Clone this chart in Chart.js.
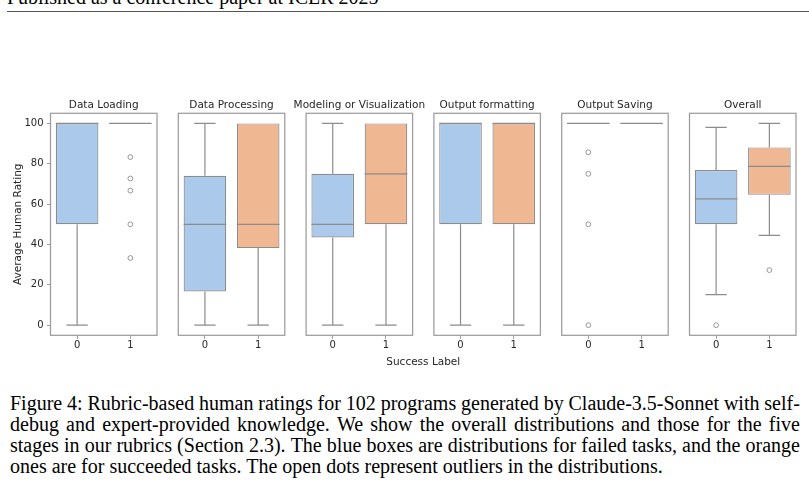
<!DOCTYPE html>
<html><head><meta charset="utf-8">
<script src="https://cdn.jsdelivr.net/npm/chart.js@4.4.1/dist/chart.umd.min.js"></script>
<style>
html,body{margin:0;padding:0;background:#fff;width:809px;height:486px;overflow:hidden;position:relative}
#hdr{position:absolute;left:7px;top:-13.4px;font:20px/21.3px "Liberation Serif",serif;color:#000;white-space:nowrap}
#rule{position:absolute;left:7px;top:11px;width:802px;height:1px;background:#555}
#wrap{position:absolute;left:0;top:90px;width:809px;height:285px}
#cap{position:absolute;left:10px;top:392.6px;width:790px;font:20px/21.3px "Liberation Serif",serif;color:#000}
#cap .ln{display:flex;justify-content:space-between;white-space:nowrap;height:21.3px}
#cap .last{display:block;white-space:nowrap;height:21.3px}
</style></head>
<body>
<div id="hdr">Published as a conference paper at ICLR 2025</div>
<div id="rule"></div>
<div id="wrap"><canvas id="c"></canvas></div>
<div id="cap">
<div class="ln">Figure 4: Rubric-based human ratings for 102 programs generated by Claude-3.5-Sonnet with self-</div>
<div class="ln">debug and expert-provided knowledge. We show the overall distributions and those for the five</div>
<div class="ln">stages in our rubrics (Section 2.3). The blue boxes are distributions for failed tasks, and the orange</div>
<div class="last">ones are for succeeded tasks. The open dots represent outliers in the distributions.</div>
</div>
<script>
// ---------- data ----------
const categories = ['Data Loading','Data Processing','Modeling or Visualization','Output formatting','Output Saving','Overall'];
const successLabels = ['0','1'];
const yTicks = [0,20,40,60,80,100];
const axisTitleX = 'Success Label';
const axisTitleY = 'Average Human Rating';
// Success label 0 (failed tasks)
const failQ1      = [50, 16.7, 43.5, 50, 100, 50];
const failMedian  = [100, 50, 50, 100, 100, 62.6];
const failQ3      = [100, 74, 75, 100, 100, 76.9];
const failLow     = [0, 0, 0, 0, 100, 15.2];
const failHigh    = [100, 100, 100, 100, 100, 98];
const failOutliers = [[], [], [], [], [85.7, 75, 50, 0], [0]];
// Success label 1 (succeeded tasks)
const succQ1      = [100, 38.2, 50, 50, 100, 64.6];
const succMedian  = [100, 50, 75, 100, 100, 78.7];
const succQ3      = [100, 100, 100, 100, 100, 88.1];
const succLow     = [100, 0, 0, 0, 100, 44.5];
const succHigh    = [100, 100, 100, 100, 100, 100];
const succOutliers = [[83.3, 72.7, 66.7, 50, 33.3], [], [], [], [], [27.3]];

// ---------- layout / style ----------
const PANEL_STEP = 2.4, BOX_W = 0.8, CAP_W = 0.4;
const BLUE = '#abc9ea', ORANGE = '#efb792', LINE = '#8c8c8c', FRAME = '#9c9c9c', TEXT = '#262626';
const FONT = '"DejaVu Sans", sans-serif';
const xPos = (i, j) => i * PANEL_STEP + j;

// caption justification
document.querySelectorAll('#cap .ln').forEach(d => {
  const words = d.textContent.trim().split(/\s+/);
  d.innerHTML = words.map(w => '<span>' + w + '</span>').join('');
});

const boxData = (q1, q3, j) => categories.map((c, i) => ({x: xPos(i, j), y: [q1[i], q3[i]]}));
const outData = (outs, j) => outs.flatMap((arr, i) => arr.map(v => ({x: xPos(i, j), y: v})));

const stats = [
  {j: 0, q1: failQ1, med: failMedian, q3: failQ3, lo: failLow, hi: failHigh},
  {j: 1, q1: succQ1, med: succMedian, q3: succQ3, lo: succLow, hi: succHigh}
];

const boxPlugin = {
  id: 'boxExtras',
  beforeDatasetsDraw(chart) {
    const {ctx, scales: {x, y}} = chart;
    ctx.save();
    ctx.strokeStyle = LINE; ctx.lineWidth = 1.2;
    stats.forEach(s => categories.forEach((c, i) => {
      const cx = x.getPixelForValue(xPos(i, s.j));
      const hw = x.getPixelForValue(xPos(i, s.j) + CAP_W / 2) - cx;
      ctx.beginPath();
      if (s.hi[i] > s.q3[i]) {
        ctx.moveTo(cx, y.getPixelForValue(s.q3[i])); ctx.lineTo(cx, y.getPixelForValue(s.hi[i]));
        ctx.moveTo(cx - hw, y.getPixelForValue(s.hi[i])); ctx.lineTo(cx + hw, y.getPixelForValue(s.hi[i]));
      }
      if (s.lo[i] < s.q1[i]) {
        ctx.moveTo(cx, y.getPixelForValue(s.q1[i])); ctx.lineTo(cx, y.getPixelForValue(s.lo[i]));
        ctx.moveTo(cx - hw, y.getPixelForValue(s.lo[i])); ctx.lineTo(cx + hw, y.getPixelForValue(s.lo[i]));
      }
      ctx.stroke();
    }));
    ctx.restore();
  },
  afterDatasetsDraw(chart) {
    const {ctx, scales: {x, y}, chartArea} = chart;
    ctx.save();
    ctx.strokeStyle = LINE; ctx.lineWidth = 1.2;
    stats.forEach(s => categories.forEach((c, i) => {
      const x0 = x.getPixelForValue(xPos(i, s.j) - BOX_W / 2);
      const x1 = x.getPixelForValue(xPos(i, s.j) + BOX_W / 2);
      const py = y.getPixelForValue(s.med[i]);
      ctx.beginPath(); ctx.moveTo(x0, py); ctx.lineTo(x1, py); ctx.stroke();
    }));
    // panel frames
    ctx.strokeStyle = FRAME; ctx.lineWidth = 1.25;
    categories.forEach((c, i) => {
      const l = x.getPixelForValue(xPos(i, 0) - 0.5);
      const r = x.getPixelForValue(xPos(i, 1) + 0.5);
      ctx.strokeRect(l, chartArea.top, r - l, chartArea.bottom - chartArea.top);
    });
    // panel titles
    ctx.fillStyle = TEXT; ctx.font = '10.5px ' + FONT;
    ctx.textAlign = 'center'; ctx.textBaseline = 'alphabetic';
    categories.forEach((c, i) => {
      const cx = (x.getPixelForValue(xPos(i, 0)) + x.getPixelForValue(xPos(i, 1))) / 2;
      ctx.fillText(c, cx, chartArea.top - 5);
    });
    ctx.restore();
  }
};

const xTickValues = categories.flatMap((c, i) => successLabels.map((l, j) => xPos(i, j)));

new Chart(document.getElementById('c'), {
  type: 'bar',
  data: {
    datasets: [
      {label: '0', data: boxData(failQ1, failQ3, 0), backgroundColor: BLUE, borderColor: LINE, borderWidth: 1.2,
       borderSkipped: false, grouped: false, barPercentage: BOX_W, categoryPercentage: 1},
      {label: '1', data: boxData(succQ1, succQ3, 1), backgroundColor: ORANGE, borderColor: LINE, borderWidth: 1.2,
       borderSkipped: false, grouped: false, barPercentage: BOX_W, categoryPercentage: 1},
      {type: 'scatter', label: 'out0', data: outData(failOutliers, 0), pointRadius: 2.4, pointBorderWidth: 0.9,
       borderColor: LINE, backgroundColor: 'rgba(255,255,255,0)', pointBackgroundColor: 'rgba(255,255,255,0)', pointBorderColor: LINE},
      {type: 'scatter', label: 'out1', data: outData(succOutliers, 1), pointRadius: 2.4, pointBorderWidth: 0.9,
       borderColor: LINE, backgroundColor: 'rgba(255,255,255,0)', pointBackgroundColor: 'rgba(255,255,255,0)', pointBorderColor: LINE}
    ]
  },
  options: {
    responsive: true, maintainAspectRatio: false, animation: false,
    layout: {padding: {left: 0, right: 13, top: 23.3, bottom: 4}},
    plugins: {legend: {display: false}, tooltip: {enabled: false}, title: {display: false}},
    scales: {
      x: {
        type: 'linear', min: -0.5, max: xPos(categories.length - 1, 1) + 0.5, offset: false,
        afterBuildTicks: s => { s.ticks = xTickValues.map(v => ({value: v})); },
        afterFit: s => { s.height = 35.7; },
        ticks: {autoSkip: false, maxRotation: 0, padding: 0.5, color: TEXT, font: {family: FONT, size: 10},
                callback: (v, idx) => successLabels[idx % 2]},
        grid: {display: true, offset: false, drawOnChartArea: false, drawTicks: true, tickLength: 3.5, color: FRAME, lineWidth: 1},
        border: {display: false},
        title: {display: true, text: axisTitleX, color: TEXT, font: {family: FONT, size: 10.5}, padding: {top: 0, bottom: 2}}
      },
      y: {
        type: 'linear', min: -5, max: 105,
        afterBuildTicks: s => { s.ticks = yTicks.map(v => ({value: v})); },
        afterFit: s => { s.width = 50.5; },
        ticks: {padding: 3.5, color: TEXT, font: {family: FONT, size: 10}},
        grid: {display: true, drawOnChartArea: false, drawTicks: true, tickLength: 3.5, color: FRAME, lineWidth: 1},
        border: {display: false},
        title: {display: true, text: axisTitleY, color: TEXT, font: {family: FONT, size: 10.5}, padding: {top: 11.7, bottom: 0}}
      }
    }
  },
  plugins: [boxPlugin]
});
</script>
</body></html>
